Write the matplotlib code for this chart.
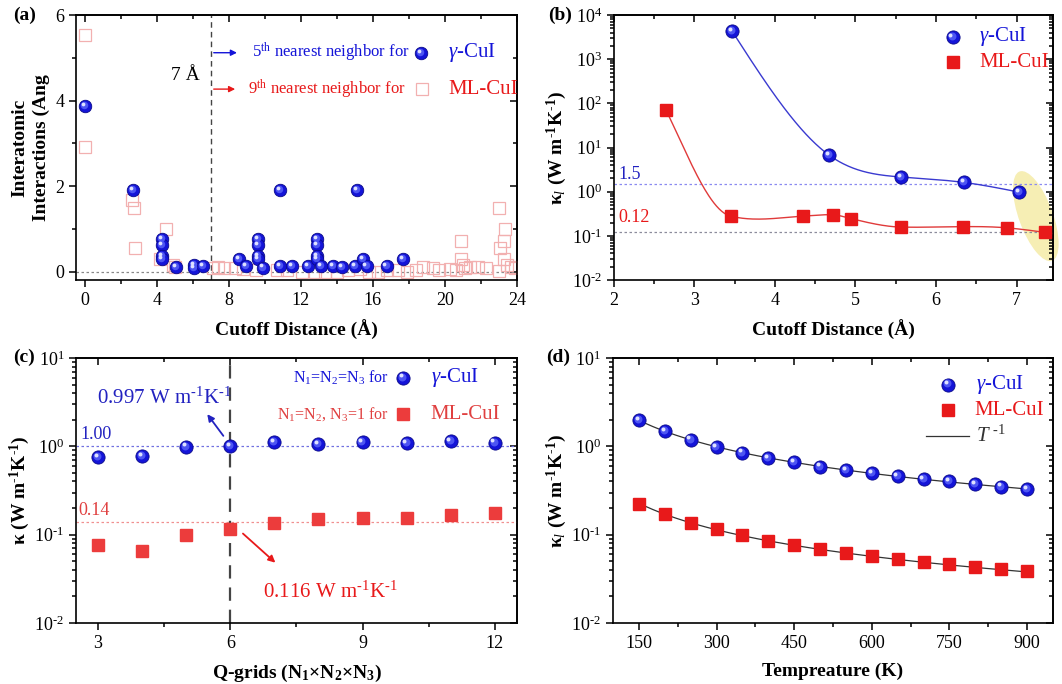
import numpy as np
import matplotlib
matplotlib.use("Agg")
import matplotlib.pyplot as plt
from matplotlib.patches import Ellipse
from matplotlib.transforms import ScaledTranslation
from matplotlib.ticker import MultipleLocator, NullFormatter, LogLocator, FuncFormatter

plt.rcParams['font.family'] = ['Liberation Serif', 'DejaVu Serif']
plt.rcParams['mathtext.fontset'] = 'custom'
plt.rcParams['mathtext.rm'] = 'Liberation Serif'
plt.rcParams['mathtext.it'] = 'Liberation Serif:italic'
plt.rcParams['mathtext.bf'] = 'Liberation Serif:bold'
plt.rcParams['axes.linewidth'] = 1.2
plt.rcParams['axes.unicode_minus'] = False

HY = '\u2010'  # short hyphen, the figure uses a hyphen instead of a wide minus

# ---- (a) interatomic interactions vs cutoff distance
a_cui_x = [0, 2.65, 10.84, 15.14, 4.3, 4.3, 4.3, 4.3, 5.04, 6.07, 6.07, 6.57,
           8.58, 8.95, 9.6, 9.6, 9.6, 9.6, 9.9, 10.84, 11.5, 12.4,
           12.88, 12.88, 12.88, 12.88, 13.1, 13.8, 14.27, 15.0, 15.47, 15.65,
           16.76, 17.7]
a_cui_y = [3.88, 1.91, 1.91, 1.91, 0.76, 0.63, 0.36, 0.3, 0.12, 0.16, 0.08, 0.14,
           0.29, 0.14, 0.76, 0.63, 0.36, 0.3, 0.1, 0.14, 0.14, 0.14,
           0.76, 0.63, 0.36, 0.3, 0.14, 0.14, 0.12, 0.14, 0.29, 0.14,
           0.14, 0.29]
a_ml_x = [0, 0, 2.6, 2.73, 2.78, 4.17, 4.5, 4.9, 5.0, 7.1, 7.4, 7.7, 8.34, 8.8,
          9.53, 10.65, 11.2, 12.05, 12.8, 13.35, 13.99, 14.6, 15.3, 15.8, 16.3,
          16.8, 17.4, 17.9, 18.4, 18.8, 19.36, 19.7, 20.3, 20.6, 20.9, 20.9,
          21.0, 21.1, 21.4, 21.87, 22.3, 23.0, 23.05, 23.3, 23.35, 23.3, 23.45,
          23.7, 23.0, 23.9]
a_ml_y = [5.53, 2.92, 1.69, 1.5, 0.56, 0.29, 1.0, 0.17, 0.12, 0.09, 0.12, 0.09,
          0.1, 0.07, 0.04, 0.05, 0.05, 0.0, 0.0, 0.0, 0.0, 0.04, 0.07, 0.0, 0.0,
          0.05, 0.04, 0.0, 0.05, 0.12, 0.08, 0.04, 0.07, 0.05, 0.72, 0.29,
          0.16, 0.08, 0.12, 0.12, 0.08, 1.5, 0.56, 0.72, 1.0, 0.29, 0.16,
          0.12, 0.02, 0.1]

# ---- (b) kappa_l vs cutoff distance
b_cui_x = [3.47, 4.67, 5.57, 6.35, 7.03]
b_cui_k = [4300, 6.8, 2.15, 1.62, 0.98]
b_ml_x = [2.65, 3.45, 4.35, 4.72, 4.95, 5.57, 6.33, 6.88, 7.35]
b_ml_k = [70, 0.28, 0.28, 0.30, 0.245, 0.158, 0.162, 0.152, 0.12]

# ---- (c) kappa vs q-grid
c_grid = [3, 4, 5, 6, 7, 8, 9, 10, 11, 12]
c_cui_k = [0.75, 0.78, 0.99, 0.997, 1.12, 1.06, 1.12, 1.08, 1.14, 1.10]
c_ml_k = [0.077, 0.066, 0.10, 0.116, 0.135, 0.15, 0.155, 0.154, 0.166, 0.175]

# ---- (d) kappa_l vs temperature
d_temp = [150, 200, 250, 300, 350, 400, 450, 500, 550, 600, 650, 700, 750,
          800, 850, 900]
d_cui_k = [1.97, 1.48, 1.19, 0.985, 0.85, 0.74, 0.66, 0.59, 0.54, 0.50, 0.46,
           0.425, 0.40, 0.37, 0.35, 0.33]
d_ml_k = [0.225, 0.171, 0.136, 0.1145, 0.098, 0.085, 0.076, 0.0686, 0.0624,
          0.0577, 0.0533, 0.0493, 0.046, 0.043, 0.0404, 0.0384]

BLUE = '#1414d8'
RED = '#e8191a'

fig = plt.figure(figsize=(10.62, 6.84), dpi=100)


def sphere(ax, x, y, ms=9, transform=None, zorder=3):
    tr = ax.transData if transform is None else transform
    ax.plot(x, y, 'o', ls='none', ms=ms, mfc=BLUE, mec='#0a0a8a', mew=0.6,
            transform=tr, zorder=zorder, clip_on=False)
    off1 = ScaledTranslation(-ms * 0.08 / 72, ms * 0.08 / 72, fig.dpi_scale_trans)
    ax.plot(x, y, 'o', ls='none', ms=ms * 0.6, mfc='#4d55f2', mec='none',
            transform=tr + off1, zorder=zorder, clip_on=False)
    off2 = ScaledTranslation(-ms * 0.17 / 72, ms * 0.17 / 72, fig.dpi_scale_trans)
    ax.plot(x, y, 'o', ls='none', ms=ms * 0.3, mfc='#dfe2ff', mec='none',
            transform=tr + off2, zorder=zorder, clip_on=False)


def smooth_curve(x, y, xs):
    # hermite curve, tangents from a natural spline, damped where the data turns
    x = np.asarray(x, float)
    y = np.asarray(y, float)
    n = len(x)
    h = np.diff(x)
    d = np.diff(y) / h
    A = np.zeros((n, n))
    r = np.zeros(n)
    A[0, 0] = 2; A[0, 1] = 1; r[0] = 3 * d[0]
    A[-1, -2] = 1; A[-1, -1] = 2; r[-1] = 3 * d[-1]
    for i in range(1, n - 1):
        A[i, i - 1] = h[i]
        A[i, i] = 2 * (h[i - 1] + h[i])
        A[i, i + 1] = h[i - 1]
        r[i] = 3 * (h[i] * d[i - 1] + h[i - 1] * d[i])
    m = np.linalg.solve(A, r)
    for i in range(1, n - 1):
        lo, hi = sorted([abs(d[i - 1]), abs(d[i])])
        if d[i - 1] * d[i] <= 0 or lo < 0.1 * hi:
            m[i] *= 0.3
    idx = np.clip(np.searchsorted(x, xs) - 1, 0, n - 2)
    t = (xs - x[idx]) / h[idx]
    h00 = 2 * t ** 3 - 3 * t ** 2 + 1
    h10 = t ** 3 - 2 * t ** 2 + t
    h01 = -2 * t ** 3 + 3 * t ** 2
    h11 = t ** 3 - t ** 2
    return (h00 * y[idx] + h10 * h[idx] * m[idx] + h01 * y[idx + 1]
            + h11 * h[idx] * m[idx + 1])


def log_fmt(v, pos):
    e = int(round(np.log10(v)))
    s = HY + str(-e) if e < 0 else str(e)
    return '10$^{' + s + '}$'


def style_axes(ax, xmajor, xminor, ymajor=None, yminor=None, log=False):
    ax.tick_params(which='both', direction='out', labelsize=13, width=1.1)
    ax.tick_params(which='major', length=5)
    ax.tick_params(which='minor', length=3)
    ax.xaxis.set_major_locator(MultipleLocator(xmajor))
    ax.xaxis.set_minor_locator(MultipleLocator(xminor))
    top = ax.secondary_xaxis('top')
    top.xaxis.set_major_locator(MultipleLocator(xmajor))
    top.xaxis.set_minor_locator(MultipleLocator(xminor))
    right = ax.secondary_yaxis('right')
    if log:
        ax.yaxis.set_major_locator(LogLocator(base=10, numticks=10))
        ax.yaxis.set_minor_locator(LogLocator(base=10, subs=np.arange(2, 10), numticks=10))
        ax.yaxis.set_major_formatter(FuncFormatter(log_fmt))
        ax.yaxis.set_minor_formatter(NullFormatter())
        right.yaxis.set_major_locator(LogLocator(base=10, numticks=10))
        right.yaxis.set_minor_locator(LogLocator(base=10, subs=np.arange(2, 10), numticks=10))
    else:
        ax.yaxis.set_major_locator(MultipleLocator(ymajor))
        ax.yaxis.set_minor_locator(MultipleLocator(yminor))
        right.yaxis.set_major_locator(MultipleLocator(ymajor))
        right.yaxis.set_minor_locator(MultipleLocator(yminor))
    for sec in (top, right):
        sec.tick_params(which='both', direction='in', width=1.1)
        sec.tick_params(which='major', length=5)
        sec.tick_params(which='minor', length=3)
    top.xaxis.set_major_formatter(NullFormatter())
    top.xaxis.set_minor_formatter(NullFormatter())
    right.yaxis.set_major_formatter(NullFormatter())
    right.yaxis.set_minor_formatter(NullFormatter())


kl_label = (r'κ$_{\mathit{l}}$ (W m$^{\mathbf{' + HY + r'1}}$K$^{\mathbf{'
            + HY + r'1}}$)')
unit = 'W m$^{' + HY + '1}$K$^{' + HY + '1}$'

# ================= (a)
axa = fig.add_axes([0.0716, 0.5906, 0.415, 0.3874])
axa.set_xlim(-0.5, 24)
axa.set_ylim(-0.19, 6)
axa.axhline(0, color='#888888', lw=0.9, ls=(0, (2, 2)), zorder=1)
axa.axvline(7, color='#444444', lw=1.0, ls=(0, (4, 3)), zorder=1)
axa.plot(a_ml_x, a_ml_y, 's', ls='none', ms=8.5, mfc='none', mec='#f2b0b0',
         mew=0.9, zorder=2)
sphere(axa, a_cui_x, a_cui_y, ms=9)
style_axes(axa, 4, 2, 2, 1)
axa.set_xlabel('Cutoff Distance (Å)', fontsize=14, fontweight='bold', labelpad=8)
axa.set_ylabel('Interatomic\nInteractions (Ang', fontsize=14, fontweight='bold',
               linespacing=1.3, labelpad=4)
axa.text(5.56, 4.58, '7 Å', fontsize=14, ha='center', va='center')
axa.annotate('', xy=(8.6, 5.12), xytext=(7.0, 5.12),
             arrowprops=dict(arrowstyle='-|>', color=BLUE, lw=1.0, mutation_scale=9))
axa.annotate('', xy=(8.5, 4.27), xytext=(7.0, 4.27),
             arrowprops=dict(arrowstyle='-|>', color=RED, lw=1.0, mutation_scale=9))
axa.text(9.3, 5.12, r'5$^{\mathrm{th}}$ nearest neighbor for', color=BLUE,
         fontsize=12, va='center')
axa.text(9.05, 4.27, r'9$^{\mathrm{th}}$ nearest neighbor for', color=RED,
         fontsize=12, va='center')
sphere(axa, [18.7], [5.12], ms=9)
axa.plot([18.75], [4.27], 's', ms=8.5, mfc='none', mec='#f2b0b0', mew=0.9)
axa.text(20.2, 5.12, r'$\gamma$-CuI', color=BLUE, fontsize=15, va='center')
axa.text(20.2, 4.27, 'ML-CuI', color=RED, fontsize=15, va='center')

# ================= (b)
axb = fig.add_axes([0.5779, 0.5906, 0.4134, 0.3874])
axb.set_yscale('log')
axb.set_xlim(2, 7.45)
axb.set_ylim(1e-2, 1e4)
e_trans = fig.dpi_scale_trans + ScaledTranslation(7.24, 0.28, axb.transData)
axb.add_patch(Ellipse((0, 0), 0.95, 0.34, angle=110, transform=e_trans,
                      facecolor='#f6eeb4', edgecolor='none', zorder=0, clip_on=False))
axb.axhline(1.5, color='#8a8af0', lw=0.9, ls=(0, (2, 2)), zorder=1)
axb.axhline(0.12, color='#8c8c9c', lw=0.9, ls=(0, (2, 2)), zorder=1)
xs = np.linspace(b_cui_x[0], b_cui_x[-1], 300)
axb.plot(xs, 10 ** smooth_curve(b_cui_x, np.log10(b_cui_k), xs), color='#3a3ad0',
         lw=1.0, zorder=2)
xs = np.linspace(b_ml_x[0], 7.45, 300)
axb.plot(xs, 10 ** smooth_curve(b_ml_x, np.log10(b_ml_k), xs), color='#e03a3a',
         lw=1.0, zorder=2)
axb.plot(b_ml_x, b_ml_k, 's', ls='none', ms=8.5, color=RED, zorder=3, clip_on=False)
sphere(axb, b_cui_x, b_cui_k, ms=9.5)
style_axes(axb, 1, 0.5, log=True)
axb.text(2.06, 1.6, '1.5', color='#2222c0', fontsize=13, va='bottom')
axb.text(2.06, 0.165, '0.12', color=RED, fontsize=13, va='bottom')
axb.set_xlabel('Cutoff Distance (Å)', fontsize=14, fontweight='bold', labelpad=8)
axb.set_ylabel(kl_label, fontsize=14, fontweight='bold', labelpad=2)
sphere(axb, [0.772], [0.918], ms=9.5, transform=axb.transAxes)
axb.plot([0.772], [0.822], 's', ms=8.5, color=RED, transform=axb.transAxes)
axb.text(0.833, 0.918, r'$\gamma$-CuI', color=BLUE, fontsize=15, va='center',
         transform=axb.transAxes)
axb.text(0.833, 0.822, 'ML-CuI', color=RED, fontsize=15, va='center',
         transform=axb.transAxes)

# ================= (c)
axc = fig.add_axes([0.0716, 0.0892, 0.415, 0.3874])
axc.set_yscale('log')
axc.set_xlim(2.5, 12.5)
axc.set_ylim(1e-2, 1e1)
axc.axhline(1.0, color='#7070e0', lw=0.9, ls=(0, (2, 2)), zorder=1)
axc.axhline(0.14, color='#f09090', lw=0.9, ls=(0, (2, 2)), zorder=1)
axc.axvline(6, color='#444444', lw=1.6, ls=(0, (6, 4)), zorder=1)
axc.plot(c_grid, c_ml_k, 's', ls='none', ms=8.5, color='#ec3c3c', zorder=3)
sphere(axc, c_grid, c_cui_k, ms=9.5)
style_axes(axc, 3, 1.5, log=True)
axc.text(2.6, 1.08, '1.00', color='#2222c0', fontsize=13, va='bottom')
axc.text(2.55, 0.152, '0.14', color='#e04040', fontsize=13, va='bottom')
axc.text(2.98, 3.47, '0.997 ' + unit, color='#2222c0', fontsize=15, va='center')
axc.annotate('', xy=(5.44, 2.45), xytext=(5.88, 1.24),
             arrowprops=dict(arrowstyle='-|>', color='#2222c0', lw=1.3, mutation_scale=10))
axc.text(6.75, 0.0225, '0.116 ' + unit, color=RED, fontsize=15, va='center')
axc.annotate('', xy=(7.07, 0.0459), xytext=(6.24, 0.108),
             arrowprops=dict(arrowstyle='-|>', color=RED, lw=1.3, mutation_scale=10))
axc.text(0.71, 0.926, r'N$_1$=N$_2$=N$_3$ for', color=BLUE, fontsize=11.5,
         ha='right', va='center', transform=axc.transAxes)
axc.text(0.71, 0.787, r'N$_1$=N$_2$, N$_3$=1 for', color='#e04040', fontsize=11.5,
         ha='right', va='center', transform=axc.transAxes)
sphere(axc, [0.742], [0.926], ms=9.5, transform=axc.transAxes)
axc.plot([0.742], [0.787], 's', ms=8.5, color='#ec3c3c', transform=axc.transAxes)
axc.text(0.805, 0.926, r'$\gamma$-CuI', color=BLUE, fontsize=15, va='center',
         transform=axc.transAxes)
axc.text(0.803, 0.787, 'ML-CuI', color='#e04040', fontsize=15, va='center',
         transform=axc.transAxes)
axc.set_xlabel(r'Q-grids (N$_\mathbf{1}$×N$_\mathbf{2}$×N$_\mathbf{3}$)', fontsize=14,
               fontweight='bold', labelpad=8)
axc.set_ylabel(r'κ (W m$^{\mathbf{' + HY + r'1}}$K$^{\mathbf{' + HY + r'1}}$)',
               fontsize=14, fontweight='bold', labelpad=2)

# ================= (d)
axd = fig.add_axes([0.5772, 0.0892, 0.4143, 0.3874])
axd.set_yscale('log')
axd.set_xlim(100, 950)
axd.set_ylim(1e-2, 1e1)
t = np.asarray(d_temp, float)
tt = np.linspace(150, 900, 200)
for k in (d_cui_k, d_ml_k):
    k = np.asarray(k)
    coef = np.sum(k / t) / np.sum(1 / t ** 2)
    axd.plot(tt, coef / tt, color='#333333', lw=0.9, zorder=2)
axd.plot(d_temp, d_ml_k, 's', ls='none', ms=8.5, color=RED, zorder=3)
sphere(axd, d_temp, d_cui_k, ms=9.5)
style_axes(axd, 150, 75, log=True)
axd.set_xlabel('Tempreature (K)', fontsize=14, fontweight='bold', labelpad=8)
axd.set_ylabel(kl_label, fontsize=14, fontweight='bold', labelpad=2)
sphere(axd, [0.761], [0.90], ms=9.5, transform=axd.transAxes)
axd.plot([0.761], [0.803], 's', ms=8.5, color=RED, transform=axd.transAxes)
axd.plot([0.711, 0.809], [0.706, 0.706], color='#333333', lw=0.9,
         transform=axd.transAxes)
axd.text(0.825, 0.90, r'$\gamma$-CuI', color=BLUE, fontsize=15, va='center',
         transform=axd.transAxes)
axd.text(0.821, 0.803, 'ML-CuI', color=RED, fontsize=15, va='center',
         transform=axd.transAxes)
axd.text(0.825, 0.706, r'$T^{\ \mathit{' + HY + '1}}$', color='#333333', fontsize=15,
         va='center', transform=axd.transAxes)

for lbl, x, y in [('(a)', 0.012, 0.978), ('(b)', 0.5157, 0.978),
                  ('(c)', 0.012, 0.478), ('(d)', 0.514, 0.478)]:
    fig.text(x, y, lbl, fontsize=14, fontweight='bold', va='center')

fig.savefig('out.png', dpi=100)
